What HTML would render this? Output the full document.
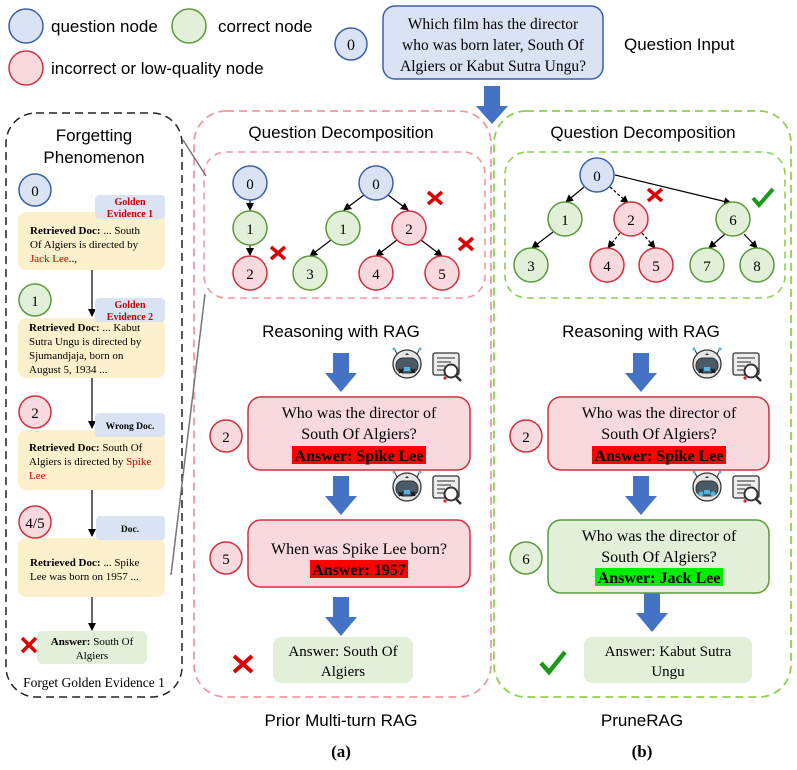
<!DOCTYPE html>
<html><head><meta charset="utf-8"><style>
html,body{margin:0;padding:0;background:#fff;}
svg{display:block;}
.s{font-family:"Liberation Sans",sans-serif;}
.r{font-family:"Liberation Serif",serif;}
</style></head><body>
<svg width="797" height="770" viewBox="0 0 797 770" xmlns="http://www.w3.org/2000/svg">
<defs>
<marker id="ah" markerWidth="8" markerHeight="8" refX="7" refY="4" orient="auto" markerUnits="userSpaceOnUse"><path d="M0,0 L8,4 L0,8 z" fill="#000"/></marker>
<g id="robot"><circle r="14" fill="#e6e6e6" stroke="#333" stroke-width="1.3"/><rect x="-11" y="-6" width="22" height="15" rx="7" fill="#4a5a66" stroke="#333"/><line x1="-12" y1="-14" x2="-10" y2="-10" stroke="#333"/><line x1="12" y1="-14" x2="10" y2="-10" stroke="#333"/><circle cx="-13" cy="-15" r="1.5" fill="#4db6e6"/><circle cx="13" cy="-15" r="1.5" fill="#4db6e6"/><path d="M-2,-9 L0,-11 L2,-9z" fill="#333"/><rect x="-3" y="3" width="6" height="4" fill="#4db6e6"/></g>
<g id="xeyes"><path d="M-8,-2 l4,4 m0,-4 l-4,4 M4,-2 l4,4 m0,-4 l-4,4" stroke="#111" stroke-width="1.4"/></g>
<g id="doc"><rect x="0" y="0" width="26" height="22" rx="2" fill="#eee" stroke="#333" stroke-width="1.3"/><path d="M4,5h18M4,9h14M4,13h8M4,17h8" stroke="#555" stroke-width="1.2"/><circle cx="18" cy="18" r="6.5" fill="#fff" stroke="#333" stroke-width="2"/><line x1="22.5" y1="22.5" x2="28" y2="28" stroke="#333" stroke-width="2.5"/><circle cx="12" cy="25" r="1.6" fill="#d23"/></g>
</defs>

<!-- Legend -->
<circle cx="26" cy="26" r="17" fill="#dae3f4" stroke="#3a5fab" stroke-width="1.5"/>
<text x="51" y="32" class="s" font-size="17">question node</text>
<circle cx="189" cy="26" r="17" fill="#e2efd9" stroke="#5b9a3a" stroke-width="1.5"/>
<text x="218" y="32" class="s" font-size="17">correct node</text>
<circle cx="26" cy="68" r="17" fill="#f8d9de" stroke="#d0303f" stroke-width="1.5"/>
<text x="51" y="74" class="s" font-size="17">incorrect or low-quality node</text>

<!-- Question input -->
<circle cx="351" cy="44" r="16" fill="#dae3f4" stroke="#3a5fab" stroke-width="1.5"/>
<text x="351" y="50" class="r" font-size="16" text-anchor="middle">0</text>
<rect x="383" y="6" width="220" height="73" rx="12" fill="#dae3f4" stroke="#3a5fab" stroke-width="1.5"/>
<text class="r" font-size="15.5" text-anchor="middle"><tspan x="493" y="29">Which film has the director</tspan><tspan x="493" y="50">who was born later, South Of</tspan><tspan x="493" y="71">Algiers or Kabut Sutra Ungu?</tspan></text>
<text x="624" y="50" class="s" font-size="17">Question Input</text>
<polygon points="484,86 500,86 500,106 508,106 492,124 476,106 484,106" fill="#4472c4"/>

<!-- Containers -->
<rect x="6" y="113" width="176" height="584" rx="30" fill="none" stroke="#222" stroke-width="1.5" stroke-dasharray="8,5"/>
<rect x="194" y="111" width="297" height="586" rx="32" fill="none" stroke="#f09aa5" stroke-width="1.8" stroke-dasharray="8,5"/>
<rect x="494" y="111" width="297" height="586" rx="32" fill="none" stroke="#8fd14f" stroke-width="1.8" stroke-dasharray="8,5"/>
<rect x="204" y="152" width="281" height="146" rx="22" fill="none" stroke="#f09aa5" stroke-width="1.6" stroke-dasharray="7,5"/>
<rect x="505" y="152" width="280" height="146" rx="22" fill="none" stroke="#8fd14f" stroke-width="1.6" stroke-dasharray="7,5"/>
<line x1="183" y1="140" x2="206" y2="176" stroke="#777" stroke-width="1.5"/>
<line x1="171" y1="575" x2="205" y2="294" stroke="#777" stroke-width="1.5"/>

<text x="341" y="138" class="s" font-size="17" text-anchor="middle">Question Decomposition</text>
<text x="643" y="138" class="s" font-size="17" text-anchor="middle">Question Decomposition</text>

<!-- Left forgetting panel -->
<text x="94" y="141" class="s" font-size="17" text-anchor="middle">Forgetting</text>
<text x="94" y="163" class="s" font-size="17" text-anchor="middle">Phenomenon</text>
<g class="r" font-size="11">
<line x1="92" y1="270" x2="92" y2="316" stroke="#000" stroke-width="1.2" marker-end="url(#ah)"/>
<line x1="92" y1="378" x2="92" y2="428" stroke="#000" stroke-width="1.2" marker-end="url(#ah)"/>
<line x1="92" y1="490" x2="92" y2="536" stroke="#000" stroke-width="1.2" marker-end="url(#ah)"/>
<line x1="92" y1="597" x2="92" y2="630" stroke="#000" stroke-width="1.2" marker-end="url(#ah)"/>
<rect x="18" y="212" width="147" height="58" rx="8" fill="#fdf0cc"/>
<rect x="18" y="318" width="147" height="60" rx="8" fill="#fdf0cc"/>
<rect x="18" y="430" width="147" height="60" rx="8" fill="#fdf0cc"/>
<rect x="18" y="538" width="147" height="59" rx="8" fill="#fdf0cc"/>
<rect x="95" y="195" width="70" height="24" rx="4" fill="#dae3f4"/>
<rect x="95" y="298" width="70" height="24" rx="4" fill="#dae3f4"/>
<rect x="95" y="413" width="70" height="24" rx="4" fill="#dae3f4"/>
<rect x="96" y="516" width="69" height="24" rx="4" fill="#dae3f4"/>
<text font-weight="bold" fill="#c00" font-size="10" text-anchor="middle"><tspan x="130" y="205">Golden</tspan><tspan x="130" y="217">Evidence 1</tspan></text>
<text font-weight="bold" fill="#c00" font-size="10" text-anchor="middle"><tspan x="130" y="308">Golden</tspan><tspan x="130" y="320">Evidence 2</tspan></text>
<text font-weight="bold" font-size="9.5" text-anchor="middle" x="130" y="429">Wrong Doc.</text>
<text font-weight="bold" font-size="9.5" text-anchor="middle" x="130" y="532">Doc.</text>
<circle cx="35" cy="190" r="16" fill="#dae3f4" stroke="#3a5fab" stroke-width="1.5"/><text x="35" y="196" font-size="15" text-anchor="middle">0</text>
<circle cx="35" cy="300" r="16" fill="#e2efd9" stroke="#5b9a3a" stroke-width="1.5"/><text x="35" y="306" font-size="15" text-anchor="middle">1</text>
<circle cx="35" cy="412" r="16" fill="#f8d9de" stroke="#d0303f" stroke-width="1.5"/><text x="35" y="418" font-size="15" text-anchor="middle">2</text>
<circle cx="35" cy="522" r="16" fill="#f8d9de" stroke="#d0303f" stroke-width="1.5"/><text x="35" y="528" font-size="15" text-anchor="middle">4/5</text>
<text><tspan x="30" y="234"><tspan font-weight="bold">Retrieved Doc:</tspan> ... South</tspan><tspan x="30" y="248">Of Algiers is directed by</tspan><tspan x="30" y="262"><tspan fill="#c00">Jack Lee</tspan>..,</tspan></text>
<text><tspan x="29" y="331"><tspan font-weight="bold">Retrieved Doc:</tspan> ... Kabut</tspan><tspan x="29" y="345">Sutra Ungu is directed by</tspan><tspan x="29" y="359">Sjumandjaja, born on</tspan><tspan x="29" y="373">August 5, 1934 ...</tspan></text>
<text><tspan x="29" y="451"><tspan font-weight="bold">Retrieved Doc:</tspan> South Of</tspan><tspan x="29" y="465">Algiers is directed by <tspan fill="#c00">Spike</tspan></tspan><tspan x="29" y="479" fill="#c00">Lee</tspan></text>
<text><tspan x="30" y="566"><tspan font-weight="bold">Retrieved Doc:</tspan> ... Spike</tspan><tspan x="30" y="580">Lee  was born on 1957 ...</tspan></text>
<rect x="37" y="631" width="110" height="33" rx="6" fill="#e2efd9"/>
<text text-anchor="middle"><tspan x="92" y="645"><tspan font-weight="bold">Answer:</tspan> South Of</tspan><tspan x="92" y="659">Algiers</tspan></text>
<text x="94" y="687" font-size="13.5" text-anchor="middle">Forget Golden Evidence 1</text>
</g>
<path d="M22,638 l14,14 m0,-14 l-14,14" stroke="#d00" stroke-width="3.5"/>

<!-- Pink tree -->
<g class="r" font-size="15" text-anchor="middle" stroke-width="1.5">
<g stroke="#000" stroke-width="1.2" marker-end="url(#ah)">
<line x1="250" y1="200" x2="250" y2="210"/>
<line x1="250" y1="245" x2="250" y2="255"/>
<line x1="364" y1="195" x2="344" y2="210"/>
<line x1="388" y1="195" x2="408" y2="210"/>
<line x1="331" y1="240" x2="310" y2="256"/>
<line x1="397" y1="240" x2="376" y2="256"/>
<line x1="421" y1="240" x2="442" y2="256"/>
</g>
<circle cx="250" cy="183" r="17" fill="#dae3f4" stroke="#3a5fab"/><text x="250" y="189">0</text>
<circle cx="250" cy="228" r="17" fill="#e2efd9" stroke="#5b9a3a"/><text x="250" y="234">1</text>
<circle cx="250" cy="273" r="17" fill="#f8d9de" stroke="#d0303f"/><text x="250" y="279">2</text>
<circle cx="376" cy="183" r="17" fill="#dae3f4" stroke="#3a5fab"/><text x="376" y="189">0</text>
<circle cx="343" cy="228" r="17" fill="#e2efd9" stroke="#5b9a3a"/><text x="343" y="234">1</text>
<circle cx="409" cy="228" r="17" fill="#f8d9de" stroke="#d0303f"/><text x="409" y="234">2</text>
<circle cx="310" cy="273" r="17" fill="#e2efd9" stroke="#5b9a3a"/><text x="310" y="279">3</text>
<circle cx="376" cy="273" r="17" fill="#f8d9de" stroke="#d0303f"/><text x="376" y="279">4</text>
<circle cx="442" cy="273" r="17" fill="#f8d9de" stroke="#d0303f"/><text x="442" y="279">5</text>
</g>
<path d="M428,192 l14,12 m0,-12 l-14,12 M271,247 l14,12 m0,-12 l-14,12 M459,238 l14,12 m0,-12 l-14,12" stroke="#d00" stroke-width="3.5"/>

<!-- Green tree -->
<g class="r" font-size="15" text-anchor="middle" stroke-width="1.5">
<g stroke="#000" stroke-width="1.2" marker-end="url(#ah)">
<line x1="584" y1="187" x2="566" y2="202"/>
<line x1="610" y1="187" x2="628" y2="203" stroke-dasharray="3,2"/>
<line x1="615" y1="175" x2="731" y2="203"/>
<line x1="553" y1="232" x2="532" y2="248"/>
<line x1="620" y1="233" x2="608" y2="248" stroke-dasharray="3,2"/>
<line x1="642" y1="233" x2="655" y2="248" stroke-dasharray="3,2"/>
<line x1="725" y1="234" x2="709" y2="248"/>
<line x1="744" y1="234" x2="757" y2="248"/>
</g>
<circle cx="597" cy="175" r="17" fill="#dae3f4" stroke="#3a5fab"/><text x="597" y="181">0</text>
<circle cx="565" cy="219" r="17" fill="#e2efd9" stroke="#5b9a3a"/><text x="565" y="225">1</text>
<circle cx="631" cy="219" r="17" fill="#f8d9de" stroke="#d0303f"/><text x="631" y="225">2</text>
<circle cx="733" cy="219" r="17" fill="#e2efd9" stroke="#5b9a3a"/><text x="733" y="225">6</text>
<circle cx="531" cy="265" r="17" fill="#e2efd9" stroke="#5b9a3a"/><text x="531" y="271">3</text>
<circle cx="607" cy="265" r="17" fill="#f8d9de" stroke="#d0303f"/><text x="607" y="271">4</text>
<circle cx="656" cy="265" r="17" fill="#f8d9de" stroke="#d0303f"/><text x="656" y="271">5</text>
<circle cx="707" cy="265" r="17" fill="#e2efd9" stroke="#5b9a3a"/><text x="707" y="271">7</text>
<circle cx="757" cy="265" r="17" fill="#e2efd9" stroke="#5b9a3a"/><text x="757" y="271">8</text>
</g>
<path d="M648,189 l14,12 m0,-12 l-14,12" stroke="#d00" stroke-width="3.5"/>
<path d="M753,198 l6,7 l14,-16" fill="none" stroke="#1a9a1a" stroke-width="4"/>

<!-- Reasoning sections -->
<text x="341" y="337" class="s" font-size="17" text-anchor="middle">Reasoning with RAG</text>
<text x="641" y="337" class="s" font-size="17" text-anchor="middle">Reasoning with RAG</text>

<g id="arr"><polygon points="333,353 349,353 349,373 357,373 341,392 325,373 333,373" fill="#4472c4"/></g>
<polygon points="333,476 349,476 349,496 357,496 341,515 325,496 333,496" fill="#4472c4"/>
<polygon points="333,597 349,597 349,617 357,617 341,636 325,617 333,617" fill="#4472c4"/>
<polygon points="633,353 649,353 649,373 657,373 641,392 625,373 633,373" fill="#4472c4"/>
<polygon points="633,476 649,476 649,496 657,496 641,515 625,496 633,496" fill="#4472c4"/>
<polygon points="644,593 660,593 660,613 668,613 652,632 636,613 644,613" fill="#4472c4"/>

<use href="#robot" x="407" y="364"/><use href="#xeyes" x="407" y="371"/><use href="#doc" x="433" y="353"/>
<use href="#robot" x="407" y="487"/><use href="#xeyes" x="407" y="494"/><use href="#doc" x="433" y="476"/>
<use href="#robot" x="707" y="364"/><use href="#xeyes" x="707" y="371"/><use href="#doc" x="733" y="353"/>
<use href="#robot" x="707" y="487"/><circle cx="701" cy="494" r="2.5" fill="#4db6e6"/><circle cx="713" cy="494" r="2.5" fill="#4db6e6"/><use href="#doc" x="733" y="476"/>

<g class="r" text-anchor="middle">
<rect x="248" y="397" width="222" height="73" rx="13" fill="#f8d9de" stroke="#d0303f" stroke-width="1.5"/>
<text font-size="16"><tspan x="359" y="418">Who was the director of</tspan><tspan x="359" y="439">South Of Algiers?</tspan></text>
<rect x="292" y="446" width="134" height="18" fill="#ff0000"/>
<text x="359" y="461" font-size="16" font-weight="bold">Answer: Spike Lee</text>
<circle cx="226" cy="436" r="16" fill="#f8d9de" stroke="#d0303f" stroke-width="1.5"/><text x="226" y="442" font-size="15">2</text>

<rect x="248" y="520" width="222" height="67" rx="13" fill="#f8d9de" stroke="#d0303f" stroke-width="1.5"/>
<text x="359" y="554" font-size="16">When was Spike Lee born?</text>
<rect x="310" y="560" width="98" height="18" fill="#ff0000"/>
<text x="359" y="575" font-size="16" font-weight="bold">Answer: 1957</text>
<circle cx="226" cy="558" r="16" fill="#f8d9de" stroke="#d0303f" stroke-width="1.5"/><text x="226" y="564" font-size="15">5</text>

<rect x="273" y="637" width="140" height="46" rx="8" fill="#e2efd9"/>
<text font-size="15"><tspan x="343" y="656">Answer: South Of</tspan><tspan x="343" y="676">Algiers</tspan></text>

<rect x="548" y="397" width="221" height="73" rx="13" fill="#f8d9de" stroke="#d0303f" stroke-width="1.5"/>
<text font-size="16"><tspan x="659" y="418">Who was the director of</tspan><tspan x="659" y="439">South Of Algiers?</tspan></text>
<rect x="592" y="446" width="134" height="18" fill="#ff0000"/>
<text x="659" y="461" font-size="16" font-weight="bold">Answer: Spike Lee</text>
<circle cx="526" cy="436" r="16" fill="#f8d9de" stroke="#d0303f" stroke-width="1.5"/><text x="526" y="442" font-size="15">2</text>

<rect x="548" y="520" width="221" height="73" rx="13" fill="#e2efd9" stroke="#5b9a3a" stroke-width="1.5"/>
<text font-size="16"><tspan x="659" y="541">Who was the director of</tspan><tspan x="659" y="562">South Of Algiers?</tspan></text>
<rect x="595" y="568" width="128" height="18" fill="#00ee00"/>
<text x="659" y="583" font-size="16" font-weight="bold">Answer: Jack Lee</text>
<circle cx="526" cy="558" r="16" fill="#e2efd9" stroke="#5b9a3a" stroke-width="1.5"/><text x="526" y="564" font-size="15">6</text>

<rect x="584" y="637" width="168" height="46" rx="8" fill="#e2efd9"/>
<text font-size="15"><tspan x="668" y="656">Answer: Kabut Sutra</tspan><tspan x="668" y="676">Ungu</tspan></text>
</g>
<path d="M234,656 l18,16 m0,-16 l-18,16" stroke="#d00" stroke-width="4"/>
<path d="M541,663 l8,9 l16,-20" fill="none" stroke="#1a9a1a" stroke-width="4.5"/>

<text x="341" y="726" class="s" font-size="17" text-anchor="middle">Prior Multi-turn RAG</text>
<text x="642" y="726" class="s" font-size="17" text-anchor="middle">PruneRAG</text>
<text x="341" y="757" class="r" font-size="17" font-weight="bold" text-anchor="middle">(a)</text>
<text x="642" y="757" class="r" font-size="17" font-weight="bold" text-anchor="middle">(b)</text>
</svg>
</body></html>
